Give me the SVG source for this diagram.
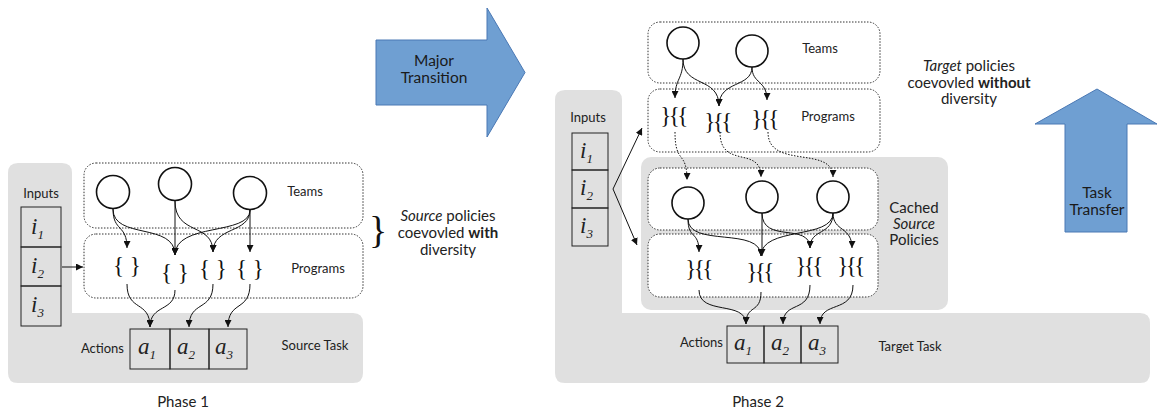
<svg xmlns="http://www.w3.org/2000/svg" width="1157" height="412" viewBox="0 0 1157 412">
<style>
.bg{fill:#e0e0e0;stroke:none}
.dot{fill:#fff;stroke:#333;stroke-width:1;stroke-dasharray:1.5 1.5}
.node{fill:#fff;stroke:#111;stroke-width:1.6}
.box{fill:none;stroke:#222;stroke-width:1}
.lbl{font-family:Lato,'Liberation Sans',sans-serif;font-size:13px;fill:#222}
.big{font-family:Lato,'Liberation Sans',sans-serif;font-size:15px;fill:#222}
.var{font-family:'Liberation Serif',serif;font-style:italic;font-size:23px;fill:#222}
.sub{font-size:13px}
.prg{font-family:'Liberation Serif',serif;font-size:23px;fill:#111;letter-spacing:-2.5px}
.br{font-family:'Liberation Serif',serif;font-size:23px;fill:#111}
.con{fill:none;stroke:#111;stroke-width:1}
.cond{fill:none;stroke:#111;stroke-width:1;stroke-dasharray:1.5 1.5}
.blk{fill:#6f9fd2;stroke:#4a78b4;stroke-width:1}
.arw{font-family:Lato,'Liberation Sans',sans-serif;font-size:15.5px;fill:#1a1a1a;text-anchor:middle}
.mid{text-anchor:middle}
</style>
<defs>
<marker id="ah" viewBox="0 0 10 10" refX="10" refY="5" markerWidth="7" markerHeight="7" orient="auto" markerUnits="userSpaceOnUse">
<path d="M0,0 L10,5 L0,10 Z" fill="#111"/>
</marker>
</defs>

<!-- Phase 1 backgrounds -->
<g id="phase1-bg">
<path class="bg" d="M18,163 H62 Q72,163 72,173 V313 H353 Q363,313 363,323 V373 Q363,383 353,383 H18 Q8,383 8,373 V173 Q8,163 18,163 Z"/>
<rect class="dot" x="84" y="163" width="279" height="65" rx="12"/>
<rect class="dot" x="84" y="234" width="279" height="64" rx="12"/>
</g>

<!-- Phase 2 backgrounds -->
<g id="phase2-bg">
<path class="bg" d="M565,90 H612 Q622,90 622,100 V313 H1140 Q1150,313 1150,323 V373 Q1150,383 1140,383 H565 Q555,383 555,373 V100 Q555,90 565,90 Z"/>
<rect class="dot" x="648" y="22" width="232" height="61" rx="12"/>
<rect class="dot" x="648" y="89" width="232" height="63" rx="12"/>
<rect class="bg" x="641" y="157" width="307" height="153" rx="10"/>
<rect class="dot" x="648" y="168" width="230" height="62" rx="12"/>
<rect class="dot" x="648" y="234" width="230" height="63" rx="12"/>
</g>

<!-- Phase 1 nodes -->
<g id="p1-inputs">
<text class="lbl mid" x="41" y="198">Inputs</text>
<rect class="box" x="21" y="207" width="40" height="40"/>
<rect class="box" x="21" y="247" width="40" height="39"/>
<rect class="box" x="21" y="286" width="40" height="40"/>
<text class="var" x="31" y="234">i<tspan class="sub" dy="5">1</tspan></text>
<text class="var" x="31" y="273">i<tspan class="sub" dy="5">2</tspan></text>
<text class="var" x="31" y="312">i<tspan class="sub" dy="5">3</tspan></text>
</g>
<g id="p1-teams">
<circle class="node" cx="113" cy="192" r="16.5"/>
<circle class="node" cx="175" cy="184" r="16.5"/>
<circle class="node" cx="250" cy="193" r="16.5"/>
<text class="lbl mid" x="305" y="196">Teams</text>
</g>
<g id="p1-programs">
<text class="br mid" x="127" y="273">{ }</text>
<text class="br mid" x="175" y="280">{ }</text>
<text class="br mid" x="213" y="276">{ }</text>
<text class="br mid" x="250" y="276">{ }</text>
<text class="lbl mid" x="318" y="273">Programs</text>
</g>
<g id="p1-actions">
<text class="lbl" x="124" y="353" text-anchor="end">Actions</text>
<rect class="box" x="130" y="329" width="40" height="40"/>
<rect class="box" x="170" y="329" width="39" height="40"/>
<rect class="box" x="209" y="329" width="38" height="40"/>
<text class="var" x="138" y="354">a<tspan class="sub" dy="5">1</tspan></text>
<text class="var" x="177" y="354">a<tspan class="sub" dy="5">2</tspan></text>
<text class="var" x="215" y="354">a<tspan class="sub" dy="5">3</tspan></text>
<text class="lbl mid" x="315" y="350">Source Task</text>
</g>
<g id="p1-note">
<text x="378" y="243" text-anchor="middle" style="font-family:'Liberation Serif',serif;font-size:38px;fill:#111">}</text>
<text class="big mid" x="448" y="221"><tspan font-style="italic">Source</tspan> policies</text>
<text class="big mid" x="448" y="238">coevovled <tspan font-weight="bold">with</tspan></text>
<text class="big mid" x="448" y="255">diversity</text>
</g>
<text id="phase1-label" class="big mid" x="183" y="407">Phase 1</text>

<!-- Big arrows -->
<g id="major-transition">
<path class="blk" d="M376,40 H487 V8 L525,72.5 L487,137 V105 H376 Z"/>
<text class="arw" x="434" y="66">Major</text>
<text class="arw" x="434" y="83">Transition</text>
</g>
<g id="task-transfer">
<path class="blk" d="M1065,232 V124 H1035 L1097,89 L1157,124 H1127 V232 Z"/>
<text class="arw" x="1097" y="198">Task</text>
<text class="arw" x="1097" y="215">Transfer</text>
</g>

<!-- Phase 2 nodes -->
<g id="p2-inputs">
<text class="lbl mid" x="588" y="122">Inputs</text>
<rect class="box" x="572" y="133" width="36" height="37"/>
<rect class="box" x="572" y="170" width="36" height="38"/>
<rect class="box" x="572" y="208" width="36" height="38"/>
<text class="var" x="580" y="158">i<tspan class="sub" dy="5">1</tspan></text>
<text class="var" x="580" y="195">i<tspan class="sub" dy="5">2</tspan></text>
<text class="var" x="580" y="233">i<tspan class="sub" dy="5">3</tspan></text>
</g>
<g id="p2-teams">
<circle class="node" cx="683" cy="43" r="16"/>
<circle class="node" cx="752" cy="51" r="16"/>
<text class="lbl mid" x="820" y="53">Teams</text>
</g>
<g id="p2-programs">
<text class="prg mid" x="673" y="123">}{{</text>
<text class="prg mid" x="717" y="129">}{{</text>
<text class="prg mid" x="764" y="126">}{{</text>
<text class="lbl mid" x="828" y="121">Programs</text>
</g>
<g id="p2-cached-teams">
<circle class="node" cx="688" cy="203" r="16"/>
<circle class="node" cx="762" cy="197" r="16"/>
<circle class="node" cx="833" cy="197" r="16"/>
<text class="big mid" x="914" y="213">Cached</text>
<text class="big mid" x="914" y="229" font-style="italic">Source</text>
<text class="big mid" x="914" y="245">Policies</text>
</g>
<g id="p2-cached-programs">
<text class="prg mid" x="698" y="276">}{{</text>
<text class="prg mid" x="759" y="279">}{{</text>
<text class="prg mid" x="808" y="273">}{{</text>
<text class="prg mid" x="850" y="273">}{{</text>
</g>
<g id="p2-actions">
<text class="lbl" x="723" y="347" text-anchor="end">Actions</text>
<rect class="box" x="727" y="326" width="37" height="37"/>
<rect class="box" x="764" y="326" width="37" height="37"/>
<rect class="box" x="801" y="326" width="37" height="37"/>
<text class="var" x="734" y="350">a<tspan class="sub" dy="5">1</tspan></text>
<text class="var" x="771" y="350">a<tspan class="sub" dy="5">2</tspan></text>
<text class="var" x="808" y="350">a<tspan class="sub" dy="5">3</tspan></text>
<text class="lbl mid" x="910" y="351">Target Task</text>
</g>
<g id="p2-note">
<text class="big mid" x="969" y="71"><tspan font-style="italic">Target</tspan> policies</text>
<text class="big mid" x="969" y="88">coevovled <tspan font-weight="bold">without</tspan></text>
<text class="big mid" x="969" y="104">diversity</text>
</g>
<text id="phase2-label" class="big mid" x="758" y="407">Phase 2</text>

<!-- Connectors -->
<g id="connectors">
<path class="con" marker-end="url(#ah)" d="M62,267 H83"/>
<path class="con" marker-end="url(#ah)" d="M113,209 C113,232 127,224 127,248"/>
<path class="con" marker-end="url(#ah)" d="M113,209 C113,240 175,222 175,255"/>
<path class="con" marker-end="url(#ah)" d="M175,201 V255"/>
<path class="con" marker-end="url(#ah)" d="M175,201 C175,236 213,222 213,252"/>
<path class="con" marker-end="url(#ah)" d="M250,210 C250,236 175,222 175,255"/>
<path class="con" marker-end="url(#ah)" d="M250,210 C250,234 213,226 213,252"/>
<path class="con" marker-end="url(#ah)" d="M250,210 V252"/>
<path class="con" marker-end="url(#ah)" d="M127,284 C127,312 150,300 150,327"/>
<path class="con" marker-end="url(#ah)" d="M175,290 C175,312 150,304 150,327"/>
<path class="con" marker-end="url(#ah)" d="M213,284 C213,312 189,300 189,327"/>
<path class="con" marker-end="url(#ah)" d="M250,284 C250,312 228,300 228,327"/>
<path class="con" marker-end="url(#ah)" d="M613,189 L642,128"/>
<path class="con" marker-end="url(#ah)" d="M613,189 L637,245"/>
<path class="con" marker-end="url(#ah)" d="M683,59 C683,80 675,78 675,98"/>
<path class="con" marker-end="url(#ah)" d="M683,59 C683,88 719,76 719,106"/>
<path class="con" marker-end="url(#ah)" d="M752,67 C752,88 719,80 719,106"/>
<path class="con" marker-end="url(#ah)" d="M752,67 C752,84 767,80 767,100"/>
<path class="cond" marker-end="url(#ah)" d="M675,132 C675,165 687,150 687,180"/>
<path class="cond" marker-end="url(#ah)" d="M720,132 C720,170 761,145 761,177"/>
<path class="cond" marker-end="url(#ah)" d="M768,132 C768,170 833,145 833,177"/>
<path class="con" marker-end="url(#ah)" d="M688,219 C688,240 699,230 699,252"/>
<path class="con" marker-end="url(#ah)" d="M688,219 C688,248 761,226 761,256"/>
<path class="con" marker-end="url(#ah)" d="M762,213 V256"/>
<path class="con" marker-end="url(#ah)" d="M762,213 C762,244 810,222 810,248"/>
<path class="con" marker-end="url(#ah)" d="M833,213 C833,240 761,226 761,256"/>
<path class="con" marker-end="url(#ah)" d="M833,213 C833,236 810,228 810,248"/>
<path class="con" marker-end="url(#ah)" d="M833,213 C833,232 852,226 852,248"/>
<path class="con" marker-end="url(#ah)" d="M699,290 C699,316 746,300 746,324"/>
<path class="con" marker-end="url(#ah)" d="M761,292 C761,314 746,304 746,324"/>
<path class="con" marker-end="url(#ah)" d="M810,285 C810,314 783,300 783,324"/>
<path class="con" marker-end="url(#ah)" d="M853,285 C853,314 820,300 820,324"/>
</g>
</svg>
